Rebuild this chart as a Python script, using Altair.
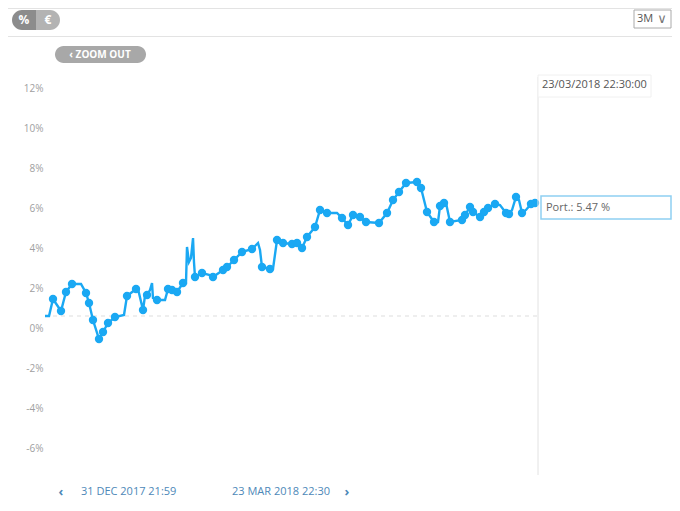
import altair as alt
import pandas as pd

# Days since 31 Dec 2017 21:59
days = [0.00, 0.67, 1.33, 2.66, 3.49, 4.49, 5.99, 6.82, 7.32, 7.98, 8.98, 9.65, 10.48, 11.64,
        13.14, 13.64, 15.14, 15.47, 16.30, 16.63, 16.97, 17.46, 17.80, 17.96, 18.63, 19.96,
        20.46, 21.12, 21.96, 22.95, 23.45, 23.62, 23.95, 24.28, 24.62, 24.78, 24.95, 26.11,
        27.44, 27.94, 29.61, 30.27, 31.44, 32.77, 34.43, 35.10, 35.43, 35.76, 36.09, 37.42,
        37.92, 38.59, 39.59, 41.08, 41.92, 42.75, 43.58, 44.91, 45.74, 46.91, 48.57, 49.40,
        50.40, 51.23, 52.39, 53.39, 55.55, 56.89, 57.88, 58.88, 60.05, 61.87, 62.54, 63.54,
        64.70, 65.37, 65.70, 66.37, 66.70, 67.36, 69.36, 69.86, 70.69, 71.19, 72.36, 73.02,
        73.69, 74.85, 75.68, 76.68, 77.18, 77.68, 78.34, 78.84, 79.34, 80.00, 80.83, 81.50, 82.00]
pct = [0.60, 0.60, 1.45, 0.85, 1.80, 2.20, 2.20, 1.75, 1.25, 0.40, -0.55, -0.20, 0.25, 0.55,
       0.65, 1.60, 1.95, 1.95, 0.90, 1.60, 1.65, 1.90, 2.25, 1.50, 1.40, 1.40,
       1.95, 1.90, 1.80, 2.25, 2.25, 4.05, 3.30, 3.50, 4.50, 3.30, 2.55, 2.75,
       2.65, 2.55, 2.90, 3.05, 3.40, 3.80, 3.95, 4.15, 4.25, 3.90, 3.05, 2.95,
       2.95, 4.40, 4.25, 4.20, 4.25, 4.00, 4.55, 5.05, 5.90, 5.75, 5.75, 5.50,
       5.15, 5.65, 5.55, 5.30, 5.25, 5.75, 6.40, 6.80, 7.25, 7.30, 7.00, 5.80,
       5.30, 5.30, 6.10, 6.25, 6.25, 5.30, 5.40, 5.65, 6.05, 5.80, 5.55, 5.80,
       6.00, 6.20, 6.15, 5.75, 5.70, 5.90, 6.55, 6.40, 5.75, 5.90, 6.20, 6.25, 6.20]
marker = [0, 0, 1, 1, 1, 1, 0, 1, 1, 1, 1, 1, 1, 1,
          0, 1, 1, 0, 1, 0, 1, 0, 0, 0, 1, 0,
          1, 1, 1, 1, 0, 0, 0, 0, 0, 0, 1, 1,
          0, 1, 1, 1, 1, 1, 1, 0, 0, 0, 1, 1,
          0, 1, 1, 1, 1, 1, 1, 1, 1, 1, 0, 1,
          1, 1, 1, 1, 1, 1, 1, 1, 1, 1, 1, 1,
          1, 0, 1, 1, 0, 1, 1, 1, 1, 1, 1, 1,
          1, 1, 0, 1, 1, 0, 1, 0, 1, 0, 1, 1, 0]

y_ticks = [-6, -4, -2, 0, 2, 4, 6, 8, 10, 12]
baseline_value = [0.60]
start_label = "31 DEC 2017 21:59"
end_label = "23 MAR 2018 22:30"
tooltip_date = "23/03/2018 22:30:00"
tooltip_value = "Port.: 5.47 %"

BLUE = "#1aa8f3"
FONT = "Open Sans"

df = pd.DataFrame({"day": days, "pct": pct, "marker": marker})

xs = alt.X("day:Q", scale=alt.Scale(domain=[0, 82], nice=False, zero=False), axis=None)
ys = alt.Y("pct:Q", scale=alt.Scale(domain=[-7.35, 12.65], nice=False, zero=False),
           axis=alt.Axis(values=y_ticks, labelExpr="datum.value + '%'", title=None,
                         domain=False, ticks=False, grid=False, labelPadding=2,
                         labelColor="#a0a0a0", labelFontSize=10, labelFont=FONT))

base = alt.Chart(df)
line = base.mark_line(color=BLUE, strokeWidth=2.4, interpolate="linear").encode(x=xs, y=ys)
points = base.transform_filter("datum.marker == 1").mark_circle(
    color=BLUE, opacity=1, size=70).encode(x="day:Q", y="pct:Q")

dash = alt.Chart(pd.DataFrame({"v": baseline_value})).mark_rule(
    color="#dddddd", strokeDash=[4, 4], strokeWidth=1).encode(
    y="v:Q", x=alt.value(0), x2=alt.value(493))

one = pd.DataFrame({"a": [0]})


def rect(x, x2, y, y2, **kw):
    return alt.Chart(one).mark_rect(**kw).encode(
        x=alt.value(x), x2=alt.value(x2), y=alt.value(y), y2=alt.value(y2))


def txt(s, x, y, font=FONT, **kw):
    return alt.Chart(one).mark_text(text=s, font=font, baseline="middle", **kw).encode(
        x=alt.value(x), y=alt.value(y))


def hrule(x, x2, y, color="#e3e3e3"):
    return alt.Chart(one).mark_rule(color=color, strokeWidth=1).encode(
        x=alt.value(x), x2=alt.value(x2), y=alt.value(y))


decor = [
    # top bar borders
    hrule(-37, 627, -66.5),
    hrule(-37, 627, -38.5),
    # % / € toggle
    rect(-33, -9, -65, -45, color="#8c8c8c", cornerRadiusTopLeft=10, cornerRadiusBottomLeft=10),
    rect(-9, 15, -65, -45, color="#b3b3b3", cornerRadiusTopRight=10, cornerRadiusBottomRight=10),
    txt("%", -21, -55, color="white", fontSize=12, fontWeight="bold", align="center"),
    txt("€", 3, -55, color="white", fontSize=12, fontWeight="bold", align="center"),
    # 3M selector
    rect(589, 626, -65, -47, fill="white", stroke="#aaaaaa", strokeWidth=1),
    txt("3M", 600, -56, color="#555555", fontSize=11, align="center"),
    txt("∨", 617, -56, color="#777777", fontSize=13, align="center", font="DejaVu Sans"),
    # zoom out button
    rect(10, 101, -29, -12, color="#a8a8a8", cornerRadius=8.5),
    txt("‹ ZOOM OUT", 55, -20.5, color="white", fontSize=10, fontWeight="bold", align="center"),
    # vertical crosshair
    alt.Chart(one).mark_rule(color="#e2e2e2", strokeWidth=1).encode(
        x=alt.value(493), y=alt.value(2), y2=alt.value(400)),
    # date tooltip
    rect(493, 606, 0, 22, fill="white", stroke="#f0f0f0", strokeWidth=1),
    txt(tooltip_date, 497, 10, color="#555555", fontSize=11, align="left"),
    # value tooltip
    rect(496, 626, 121, 144, fill="white", stroke="#8fd0f2", strokeWidth=1.5),
    txt(tooltip_value, 501, 133, color="#666666", fontSize=11, align="left"),
    # bottom date range
    txt("‹", 16, 417, color="#4d88b8", fontSize=13, fontWeight="bold", align="center"),
    txt(start_label, 36, 417, color="#4d88b8", fontSize=11, align="left"),
    txt(end_label, 187, 417, color="#4d88b8", fontSize=11, align="left"),
    txt("›", 302, 417, color="#4d88b8", fontSize=13, fontWeight="bold", align="center"),
]

chart = alt.layer(dash, line, points, *decor).properties(
    width=493, height=400,
    background="white",
    autosize=alt.AutoSizeParams(type="none"),
    padding={"left": 37, "top": 67, "right": 134, "bottom": 28},
).configure_view(stroke=None, strokeWidth=0)

chart.save("out.html", embed_options={"renderer": "svg", "actions": False})
